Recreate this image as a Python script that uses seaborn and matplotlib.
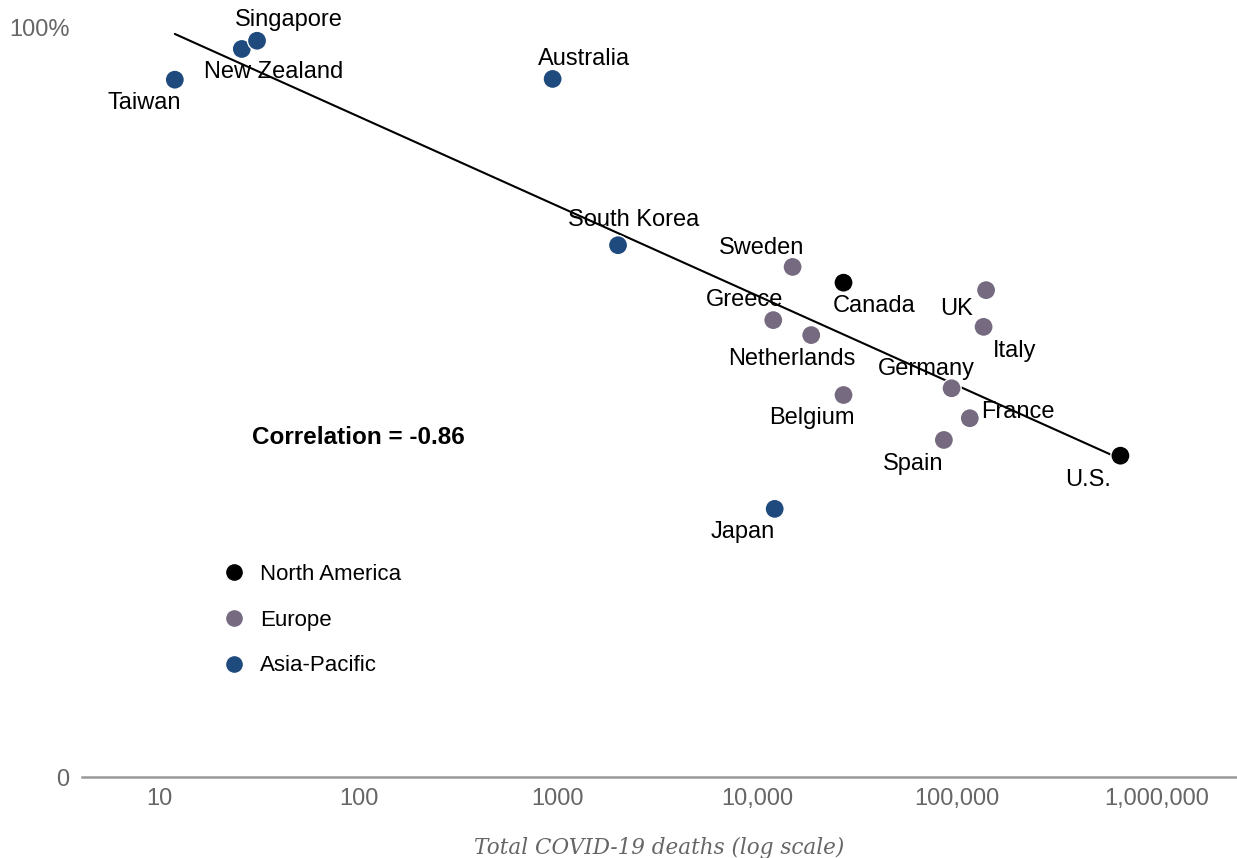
import numpy as np
import pandas as pd
import matplotlib
matplotlib.use("Agg")
import matplotlib.pyplot as plt
from matplotlib.lines import Line2D
import seaborn as sns

# Country data: total COVID-19 deaths and share (%)
countries = ["Taiwan", "New Zealand", "Singapore", "Australia", "South Korea",
             "Sweden", "Canada", "Greece", "Netherlands", "Belgium", "Japan",
             "UK", "Italy", "Germany", "France", "Spain", "U.S."]
deaths = [12, 26, 31, 940, 2000, 15000, 27000, 12000, 18600, 27000, 12200,
          140000, 136000, 94000, 116000, 86000, 660000]
share = [93.1, 97.2, 98.3, 93.2, 71.0, 68.1, 66.0, 61.0, 59.0, 51.0, 35.8,
         65.0, 60.1, 51.9, 47.9, 45.0, 42.9]
regions = ["Asia-Pacific", "Asia-Pacific", "Asia-Pacific", "Asia-Pacific",
           "Asia-Pacific", "Europe", "North America", "Europe", "Europe",
           "Europe", "Asia-Pacific", "Europe", "Europe", "Europe", "Europe",
           "Europe", "North America"]
region_order = ["North America", "Europe", "Asia-Pacific"]
region_colors = {"North America": "#000000", "Europe": "#756a80",
                 "Asia-Pacific": "#1f4a7d"}
x_ticks = [10, 100, 1000, 10000, 100000, 1000000]
x_tick_labels = ["10", "100", "1000", "10,000", "100,000", "1,000,000"]
y_ticks = [0, 100]
y_tick_labels = ["0", "100%"]
correlation_text = "Correlation = -0.86"

# Label offsets (pixels) from each marker
label_offsets = {
    "Taiwan": (-31, -23), "New Zealand": (32, -23), "Singapore": (32, 21),
    "Australia": (31, 20), "South Korea": (16, 25), "Sweden": (-31, 19),
    "Canada": (31, -23), "Greece": (-29, 20), "Netherlands": (-19, -24),
    "Belgium": (-32, -23), "Japan": (-32, -23), "UK": (-30, -19),
    "Italy": (31, -24), "Germany": (-25, 19), "France": (48, 6),
    "Spain": (-31, -24), "U.S.": (-32, -24),
}

df = pd.DataFrame({"country": countries, "deaths": deaths,
                   "share": share, "region": regions})

sns.set_style("white")
plt.rcParams["font.family"] = ["Liberation Sans", "DejaVu Sans"]
plt.rcParams["text.color"] = "black"

W, H = 1237, 858
fig = plt.figure(figsize=(W / 100, H / 100), dpi=100)
ax = fig.add_axes([82 / W, (H - 777) / H, (W - 82) / W, (777 - 28) / H])

# Least-squares trend line on log10(deaths)
lx = np.log10(df["deaths"].values)
slope, intercept = np.polyfit(lx, df["share"].values, 1)
fx = np.array([lx.min(), lx.max()])
ax.plot(10 ** fx, slope * fx + intercept, color="black", lw=1.5, zorder=2)

sns.scatterplot(data=df, x="deaths", y="share", hue="region",
                hue_order=region_order, palette=region_colors, s=190,
                edgecolor="white", linewidth=1.0, legend=False, ax=ax,
                zorder=3)

ax.set_xscale("log")
ax.set_xlim(4.11, 2.535e6)
ax.set_ylim(0, 100)

for name, xv, yv in zip(countries, deaths, share):
    dx, dy = label_offsets[name]
    ax.annotate(name, (xv, yv), xytext=(dx, dy), textcoords="offset pixels",
                ha="center", va="center", fontsize=17, color="black",
                zorder=4)

ax.text(29.3, 45.3, correlation_text, fontsize=17.5, fontweight="bold",
        color="black", ha="left", va="center")

ax.set_xticks(x_ticks)
ax.set_xticklabels(x_tick_labels)
ax.xaxis.set_minor_locator(matplotlib.ticker.NullLocator())
ax.set_yticks(y_ticks)
ax.set_yticklabels(y_tick_labels)
ax.tick_params(axis="both", length=0, labelsize=17, labelcolor="#666666")
ax.tick_params(axis="x", pad=8)
ax.tick_params(axis="y", pad=9)

ax.set_xlabel("Total COVID-19 deaths (log scale)", fontsize=15.5,
              fontstyle="italic", family="DejaVu Serif", color="#666666",
              labelpad=19)
ax.set_ylabel("")

for side in ["top", "right", "left"]:
    ax.spines[side].set_visible(False)
ax.spines["bottom"].set_color("#999999")
ax.spines["bottom"].set_linewidth(1.8)
ax.grid(False)

handles = [Line2D([0], [0], marker="o", linestyle="none", markersize=13,
                  markerfacecolor=region_colors[r], markeredgecolor="white",
                  markeredgewidth=1.0) for r in region_order]
leg = ax.legend(handles, region_order, loc="upper left",
                bbox_to_anchor=(223 / W, (H - 564) / H),
                bbox_transform=fig.transFigure, frameon=False, fontsize=16,
                handlelength=1.0, handletextpad=0.67, labelspacing=1.11,
                borderpad=0, borderaxespad=0)
for t in leg.get_texts():
    t.set_color("black")

fig.savefig("out.png", dpi=100)
